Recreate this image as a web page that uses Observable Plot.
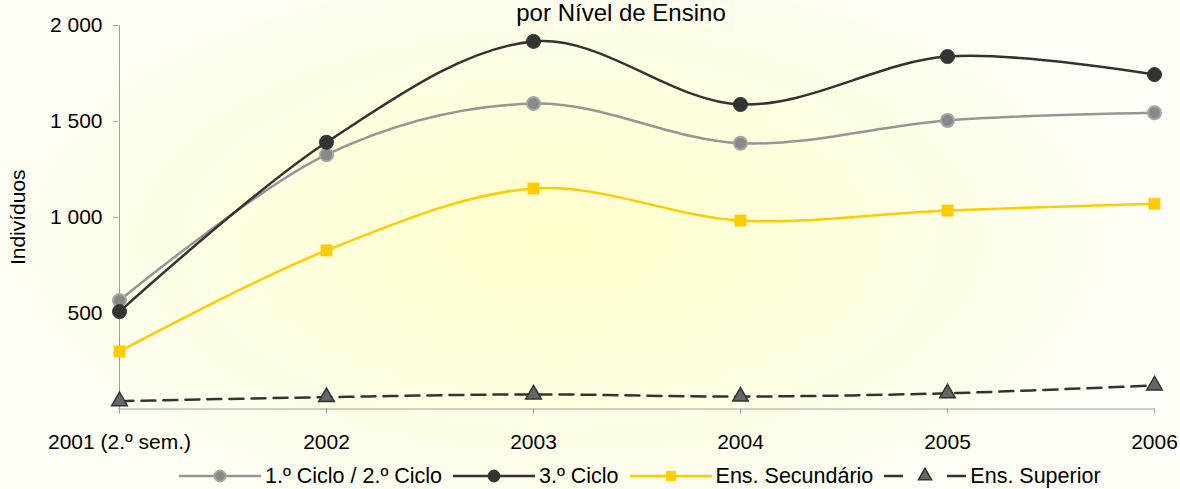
<!DOCTYPE html>
<html>
<head>
<meta charset="utf-8">
<script src="https://cdn.jsdelivr.net/npm/d3@7"></script>
<script src="https://cdn.jsdelivr.net/npm/@observablehq/plot@0.6"></script>
<style>
  html, body { margin: 0; padding: 0; }
  body {
    width: 1180px; height: 489px; overflow: hidden; position: relative;
    font-family: "Liberation Sans", Arial, sans-serif;
    background: radial-gradient(ellipse 600px 300px at 560px 240px, #FFFFCC 0%, #FFFFE2 55%, #FEFEF6 100%);
  }
  #title {
    position: absolute; top: -1px; left: 621px; transform: translateX(-50%);
    font-size: 24px; white-space: nowrap; color: #000; line-height: 28px;
  }
  #chart { position: absolute; top: 0; left: 0; }
  #legend {
    position: absolute; top: 462px; left: 179px; height: 28px;
    display: flex; align-items: center; font-size: 21.5px; color: #000; white-space: nowrap;
  }
  #legend .item { display: flex; align-items: center; margin-right: 11px; }
  #legend svg { margin-right: 4px; }
</style>
</head>
<body>
<div id="title">por Nível de Ensino</div>
<div id="chart"></div>
<div id="legend"></div>
<script>
// ---- Data ----
const years = ["2001 (2.º sem.)", "2002", "2003", "2004", "2005", "2006"];
const seriesNames = ["1.º Ciclo / 2.º Ciclo", "3.º Ciclo", "Ens. Secundário", "Ens. Superior"];
const ciclo12 = [566, 1326, 1593, 1386, 1505, 1545];
const ciclo3 = [508, 1391, 1917, 1588, 1838, 1744];
const secundario = [300, 827, 1150, 983, 1035, 1070];
const superior = [41, 62, 76, 65, 82, 123];
const yTicks = [500, 1000, 1500, 2000];
const yLabel = "Indivíduos";

// ---- Styles ----
const styles = [
  {stroke: "#969696", dash: null, symbol: "circle", fill: "#888888", mstroke: "#A6A6A6", mw: 2, r: 6.5},
  {stroke: "#333333", dash: null, symbol: "circle", fill: "#333333", mstroke: "#333333", mw: 1, r: 7},
  {stroke: "#FFCC00", dash: null, symbol: "square", fill: "#FFCC00", mstroke: "#FFCC00", mw: 0.5, r: 6.4},
  {stroke: "#333333", dash: "14,8", symbol: "triangle", fill: "#666666", mstroke: "#333333", mw: 1.5, r: 5.8}
];
const valuesList = [ciclo12, ciclo3, secundario, superior];

const rows = [];
seriesNames.forEach((s, i) => valuesList[i].forEach((v, j) => rows.push({series: s, year: years[j], value: v})));

const fmt = d => d3.format(",")(d).replace(/,/g, " ");

const marks = [
  Plot.ruleX([years[0]], {stroke: "#A0A0A0", strokeWidth: 1}),
  Plot.ruleY([0], {stroke: "#A0A0A0", strokeWidth: 1}),
  Plot.axisX({tickSize: 5, tickPadding: 20, stroke: "#A0A0A0", fill: "#000", label: null}),
  Plot.axisY({ticks: yTicks, tickFormat: fmt, tickSize: 5, tickPadding: 11, stroke: "#A0A0A0", fill: "#000",
              label: yLabel, labelAnchor: "center", labelOffset: 108, labelArrow: "none"})
];
seriesNames.forEach((s, i) => {
  const st = styles[i];
  const data = rows.filter(d => d.series === s);
  marks.push(Plot.line(data, {x: "year", y: "value", stroke: st.stroke, strokeWidth: 2.5,
    strokeDasharray: st.dash, curve: "cardinal", tension: 0}));
});
seriesNames.forEach((s, i) => {
  const st = styles[i];
  const data = rows.filter(d => d.series === s);
  marks.push(Plot.dot(data, {x: "year", y: "value", symbol: st.symbol, r: st.r, fill: st.fill,
    stroke: st.mstroke, strokeWidth: st.mw}));
});

const chart = Plot.plot({
  width: 1180, height: 462,
  marginLeft: 118, marginRight: 25, marginTop: 25, marginBottom: 53.5,
  x: {type: "point", domain: years, padding: 0},
  y: {domain: [0, 2000]},
  style: {background: "transparent", fontFamily: "'Liberation Sans', Arial, sans-serif", fontSize: "21px", color: "#000"},
  marks
});
document.getElementById("chart").appendChild(chart);

// ---- Legend ----
const legend = document.getElementById("legend");
const symPath = (sym, r) => d3.symbol(sym === "circle" ? d3.symbolCircle : sym === "square" ? d3.symbolSquare : d3.symbolTriangle, Math.PI * r * r)();
seriesNames.forEach((s, i) => {
  const st = styles[i];
  const item = document.createElement("div");
  item.className = "item";
  item.innerHTML = `<svg width="82" height="20" viewBox="0 0 82 20">
    <line x1="0" x2="82" y1="10" y2="10" stroke="${st.stroke}" stroke-width="2.5" ${st.dash ? 'stroke-dasharray="19,44,19"' : ''}/>
    <path transform="translate(41,10)" d="${symPath(st.symbol, st.r * 0.85)}" fill="${st.fill}" stroke="${st.mstroke}" stroke-width="${st.mw}"/>
  </svg><span>${s}</span>`;
  legend.appendChild(item);
});
</script>
</body>
</html>
